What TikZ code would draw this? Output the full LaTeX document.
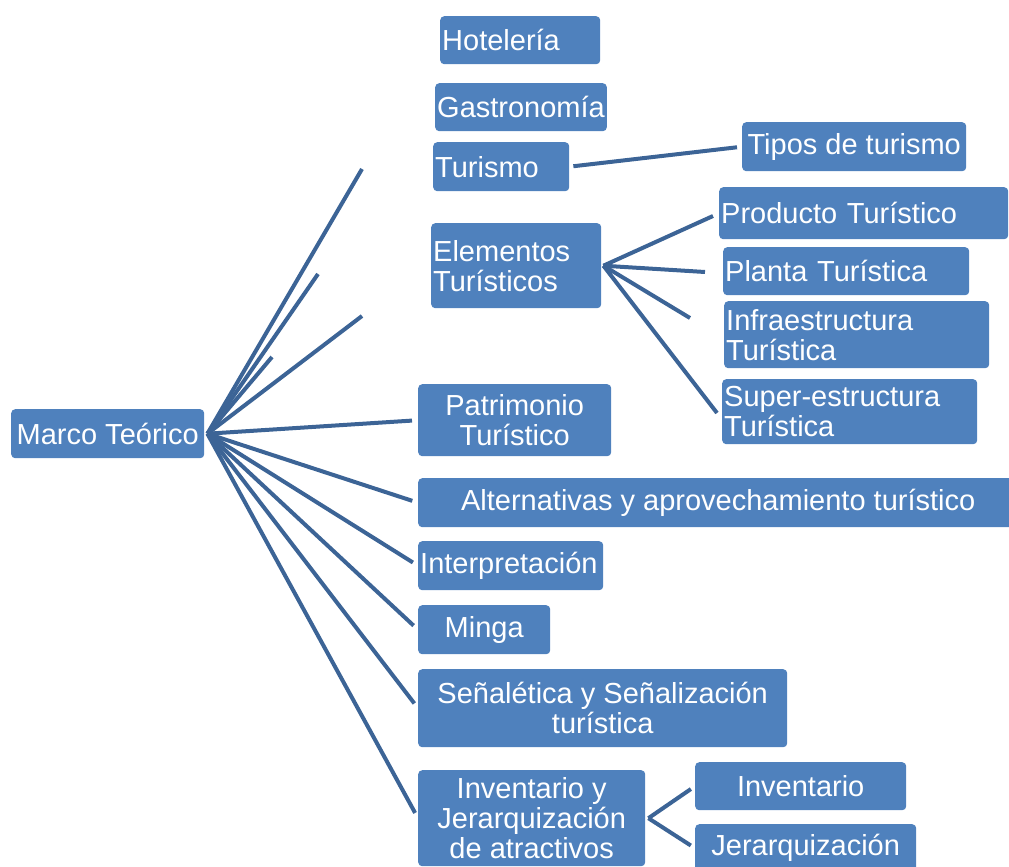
\documentclass[tikz,border=0pt]{standalone}
\usepackage{fontspec}
\setmainfont{Liberation Sans}
\usepackage{xcolor}
\definecolor{cajaazul}{HTML}{4F81BD}
\definecolor{lineaazul}{HTML}{3C6496}
\tikzset{
  tema/.style={rectangle, rounded corners=4pt, fill=cajaazul, text=white,
    font=\fontsize{29}{30}\selectfont, inner xsep=2pt, inner ysep=0pt,
    anchor=north west, align=center},
  izq/.style={text width=#1, align=left},
  rama/.style={draw=lineaazul, line width=4pt},
}

\begin{document}
\begin{tikzpicture}[x=1pt,y=-1pt]
          \useasboundingbox (0,0) rectangle (1009,867);

          % temas
          \begin{scope}[every node/.style={tema}]
            \node (hotel) [izq=156pt, minimum height=48pt] at (440,16) {Hotelería};
            \node (gastro) [minimum width=171pt, minimum height=48pt] at (435,83) {Gastronomía};
            \node (turismo) [izq=132pt, minimum height=49pt] at (433,142) {Turismo};
            \node (tipos) [minimum width=224pt, minimum height=49pt] at (742,122) {Tipos de turismo};
            \node (elem) [izq=166pt, minimum height=85pt] at (431,223) {Elementos\\Turísticos};
            \node (prod) [izq=285pt, minimum height=52pt] at (719,187) {Producto Turístico};
            \node (planta) [izq=242pt, minimum height=48pt] at (723,247) {Planta Turística};
            \node (infra) [izq=261pt, minimum height=67pt] at (724,301) {Infraestructura\\Turística};
            \node (super) [izq=251pt, minimum height=65pt] at (722,379) {Super-estructura\\Turística};
            \node (marco) [minimum width=193pt, minimum height=49pt] at (11,409) {Marco Teórico};
            \node (patr) [minimum width=193pt, minimum height=72pt] at (418,384) {Patrimonio\\Turístico};
            \node (alt) [minimum width=600pt, minimum height=49pt] at (418,478) {Alternativas y aprovechamiento turístico};
            \node (interp) [izq=181pt, minimum height=49pt] at (418,541) {Interpretación};
            \node (minga) [minimum width=132pt, minimum height=49pt] at (418,605) {Minga};
            \node (senal) [minimum width=369pt, minimum height=78pt] at (418,669) {Señalética y Señalización\\turística};
            \node (invj) [minimum width=227pt, minimum height=96pt] at (418,770) {Inventario y\\Jerarquización\\de atractivos};
            \node (inv) [minimum width=211pt, minimum height=48pt] at (695,762) {Inventario};
            \node (jer) [minimum width=221pt, minimum height=48pt] at (695,824) {Jerarquización};
          \end{scope}

          % extremos sueltos
          \coordinate (m1) at (362,169);
          \coordinate (m2) at (318,274);
          \coordinate (m3) at (362,316);
          \coordinate (m4) at (272,357);
          \coordinate (e1) at (713,216);
          \coordinate (e2) at (705,272);
          \coordinate (e3) at (690,318);
          \coordinate (e4) at (717,413);

          \foreach \fin in {m1,m2,m3,m4}
            \draw [rama] ([xshift=3pt]marco.east) -- (\fin);
          \foreach \fin in {patr,alt,interp,minga,senal,invj}
            \draw [rama, shorten >=6pt] ([xshift=3pt]marco.east) -- (\fin.west);

          \draw [rama, shorten <=4pt, shorten >=5pt] (turismo.east) -- (tipos.west);

          \foreach \fin in {e1,e2,e3,e4}
            \draw [rama] ([xshift=2pt]elem.east) -- (\fin);

          \draw [rama, shorten >=5pt] ([xshift=3pt]invj.east) -- (inv.west);
          \draw [rama, shorten >=5pt] ([xshift=3pt]invj.east) -- (jer.west);
        \end{tikzpicture}
\end{document}
